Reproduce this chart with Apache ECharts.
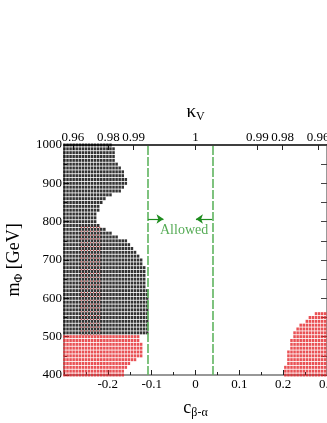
<!DOCTYPE html>
<html>
<head>
<meta charset="utf-8">
<script src="https://cdn.jsdelivr.net/npm/echarts@6/dist/echarts.min.js"></script>
<style>
html,body{margin:0;padding:0;background:#fff;}
#main{width:327px;height:423px;}
</style>
</head>
<body>
<div id="main"></div>
<script>
// 扫描网格: c 每列 0.007, 质量每行 10 GeV
var cStep = 0.007;
var cStart = -0.299;

// 黑点区域: 每行右边界 (c 值)
var blackMass = [1000,990,980,970,960,950,940,930,920,910,900,890,880,870,860,850,840,830,820,810,
                 800,790,780,770,760,750,740,730,720,710,700,690,680,670,660,650,640,630,620,610,
                 600,590,580,570,560,550,540,530,520,510];
var blackEdge = [-0.188,-0.184,-0.184,-0.182,-0.182,-0.177,-0.170,-0.166,-0.161,-0.159,
                 -0.159,-0.164,-0.173,-0.191,-0.207,-0.213,-0.218,-0.222,-0.225,-0.227,
                 -0.227,-0.220,-0.207,-0.191,-0.175,-0.157,-0.146,-0.139,-0.134,-0.130,
                 -0.121,-0.119,-0.116,-0.116,-0.116,-0.116,-0.114,-0.112,-0.110,-0.110,
                 -0.110,-0.110,-0.110,-0.110,-0.110,-0.110,-0.110,-0.110,-0.110,-0.110];

// 红点 左下 (500 -> 400 GeV), 右边界
var redLeftMass = [500,490,480,470,460,450,440,430,420,410,400];
var redLeftEdge = [-0.128,-0.128,-0.121,-0.121,-0.121,-0.121,-0.134,-0.146,-0.155,-0.162,-0.166];

// 红点 右下, 左边界
var redRightMass = [560,550,540,530,520,510,500,490,480,470,460,450,440,430,420,410,400];
var redRightEdge = [0.270,0.261,0.249,0.240,0.229,0.222,0.220,0.218,0.216,0.213,0.211,0.209,0.207,0.207,0.205,0.205,0.205];

// 黑点下面露出来的红点带
var redUnderMass = [785, 505];
var redUnderC = [-0.262, -0.216];

// 允许区间 (绿色竖线) 和 箭头
var allowedC = [-0.108, 0.038];
var arrowMass = 807;
var arrowTip = [-0.073, 0.001];
var allowedText = { c: -0.026, m: 778, text: 'Allowed' };

// 上轴 kappa_V 刻度
var kappaTicks = [0.96, 0.98, 0.99, 1, 0.99, 0.98, 0.96];
var kappaSign  = [-1, -1, -1, 0, 1, 1, 1];

var FONT = 'Liberation Serif';

function leftRows(mass, edge) {
    var pts = [];
    for (var i = 0; i < mass.length; i++) {
        for (var c = cStart; c <= edge[i] + 1e-9; c += cStep) pts.push([c, mass[i]]);
    }
    return pts;
}
function rightRows(mass, edge) {
    var pts = [];
    for (var i = 0; i < mass.length; i++) {
        for (var c = cStart; c <= 0.3; c += cStep) {
            if (c >= edge[i] - 1e-9) pts.push([c, mass[i]]);
        }
    }
    return pts;
}
function boxRows(mRange, cRange) {
    var pts = [];
    for (var m = mRange[0]; m >= mRange[1]; m -= 10) {
        for (var c = cStart + cStep / 2; c <= cRange[1]; c += cStep) {
            if (c >= cRange[0]) pts.push([c, m]);
        }
    }
    return pts;
}

var kappaPos = kappaTicks.map(function (k, i) { return kappaSign[i] * Math.sqrt(1 - k * k); });

var myChart = echarts.init(document.getElementById('main'));

var sym = [2.5, 3.0];
var option = {
    animation: false,
    backgroundColor: '#fff',
    grid: { left: 64, right: 0, top: 145, bottom: 48, outerBoundsMode: 'none' },
    xAxis: [{
        type: 'value', position: 'bottom', min: -0.3, max: 0.3, interval: 0.1,
        axisLine: { onZero: false, lineStyle: { color: '#777', width: 1.5 } },
        axisTick: { inside: true, length: 5, lineStyle: { color: '#222' } },
        minorTick: { show: true, splitNumber: 2, length: 3, lineStyle: { color: '#222' } },
        splitLine: { show: false },
        axisLabel: { color: '#000', fontFamily: FONT, fontSize: 13, margin: 3, showMinLabel: false,
            formatter: function (v) { return Math.abs(v) < 1e-9 ? '0' : (+v.toFixed(2)).toString(); } },
        name: '{c|c}{s|β-α}', nameLocation: 'middle', nameGap: 22,
        nameTextStyle: { rich: {
            c: { fontFamily: FONT, fontSize: 18, color: '#000' },
            s: { fontFamily: FONT, fontSize: 12, color: '#000', padding: [10, 0, 0, 0] } } }
    }, {
        type: 'value', position: 'top', min: -0.3, max: 0.3,
        axisLine: { onZero: false, lineStyle: { color: '#000', width: 1.5 } },
        axisTick: { inside: true, length: 5, customValues: kappaPos, lineStyle: { color: '#222' } },
        splitLine: { show: false },
        axisLabel: { color: '#000', fontFamily: FONT, fontSize: 13, margin: 1, customValues: kappaPos,
            formatter: function (v) { return Math.abs(v) < 1e-6 ? '1' : Math.sqrt(1 - v * v).toFixed(2); } },
        name: '{k|κ}{s|V}', nameLocation: 'middle', nameGap: 22,
        nameTextStyle: { rich: {
            k: { fontFamily: FONT, fontSize: 19, color: '#000' },
            s: { fontFamily: FONT, fontSize: 12, color: '#000', padding: [10, 0, 0, 0] } } }
    }],
    yAxis: [{
        type: 'value', position: 'left', min: 400, max: 1000, interval: 100,
        axisLine: { show: true, onZero: false, lineStyle: { color: '#777', width: 1.5 } },
        axisTick: { show: true, inside: true, length: 5, lineStyle: { color: '#222' } },
        minorTick: { show: true, splitNumber: 2, length: 3, lineStyle: { color: '#222' } },
        splitLine: { show: false },
        axisLabel: { color: '#000', fontFamily: FONT, fontSize: 13, margin: 2,
            formatter: function (v) { return String(v); } },
        name: '{m|m}{s|Φ}{m| [GeV]}', nameLocation: 'middle', nameGap: 32,
        nameTextStyle: { rich: {
            m: { fontFamily: FONT, fontSize: 18, color: '#000' },
            s: { fontFamily: FONT, fontSize: 12, color: '#000', padding: [10, 0, 0, 0] } } }
    }, {
        type: 'value', position: 'right', min: 400, max: 1000, interval: 50,
        axisLine: { show: true, onZero: false, lineStyle: { color: '#777', width: 1.5 } },
        axisTick: { show: true, inside: true, length: 6, lineStyle: { color: '#444' } },
        splitLine: { show: false },
        axisLabel: { show: false }
    }],
    series: [{
        name: 'black', type: 'scatter', symbol: 'rect', symbolSize: sym, silent: true,
        itemStyle: { color: '#000' }, data: leftRows(blackMass, blackEdge)
    }, {
        name: 'redUnder', type: 'scatter', symbol: 'rect', symbolSize: [1.1, 1.1], silent: true,
        itemStyle: { color: '#c81e1e' }, data: boxRows(redUnderMass, redUnderC)
    }, {
        name: 'redLeft', type: 'scatter', symbol: 'rect', symbolSize: sym, silent: true,
        itemStyle: { color: '#e3262a' }, data: leftRows(redLeftMass, redLeftEdge)
    }, {
        name: 'redRight', type: 'scatter', symbol: 'rect', symbolSize: sym, silent: true,
        itemStyle: { color: '#e3262a' }, data: rightRows(redRightMass, redRightEdge),
        markLine: {
            silent: true, symbol: 'none', label: { show: false },
            lineStyle: { color: '#5fb45f', width: 1.6, type: [9, 2] },
            data: allowedC.map(function (c) { return { xAxis: c }; })
        }
    }, {
        name: 'arrows', type: 'scatter', data: [], silent: true,
        markLine: {
            silent: true, symbol: ['none', 'arrow'], symbolSize: 7, label: { show: false },
            lineStyle: { color: '#1e8c1e', width: 1.2, type: 'solid' },
            data: allowedC.map(function (c, i) {
                return [{ coord: [c, arrowMass] }, { coord: [arrowTip[i], arrowMass] }];
            })
        }
    }, {
        name: 'allowed', type: 'scatter', symbolSize: 0, silent: true,
        data: [[allowedText.c, allowedText.m]],
        label: { show: true, position: 'inside', formatter: allowedText.text,
            fontFamily: FONT, fontSize: 14, color: '#2a962a' }
    }]
};

myChart.setOption(option);
</script>
</body>
</html>
